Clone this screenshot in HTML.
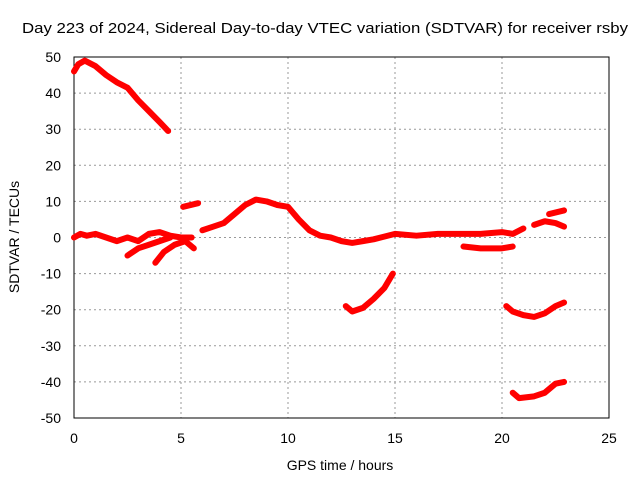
<!DOCTYPE html>
<html><head><meta charset="utf-8"><style>
body{margin:0;background:#fff;font-family:"Liberation Sans",sans-serif}
svg text{font-family:"Liberation Sans",sans-serif;font-size:14px;fill:#000}
</style></head><body>
<svg width="640" height="480">
<rect width="640" height="480" fill="#fff"/>
<g id="grid"></g>
<rect x="74" y="57" width="535" height="361" fill="none" stroke="#000"/>
<g id="ticks"></g>
<g id="series"></g>
<text x="22" y="33" textLength="606" lengthAdjust="spacingAndGlyphs" style="font-size:15px">Day 223 of 2024, Sidereal Day-to-day VTEC variation (SDTVAR) for receiver rsby</text>
<text x="340" y="470" text-anchor="middle">GPS time / hours</text>
<text transform="translate(19,237) rotate(-90)" text-anchor="middle">SDTVAR / TECUs</text>
</svg>
<script>
const xTicks=[0,5,10,15,20,25];
const yTicks=[50,40,30,20,10,0,-10,-20,-30,-40,-50];
const seg1=[[0,46],[0.2,48],[0.5,49],[1,47.5],[1.5,45],[2,43],[2.5,41.5],[3,38],[3.5,35],[4,32],[4.4,29.5]];
const seg2=[[0,0],[0.3,1],[0.6,0.5],[1,1],[1.5,0],[2,-1],[2.5,0],[3,-1],[3.5,1],[4,1.5],[4.5,0.5],[5,0],[5.5,0]];
const seg3=[[2.5,-5],[3,-3],[3.5,-2],[4,-1],[4.5,0]];
const seg4=[[3.8,-7],[4.2,-4],[4.7,-2],[5.2,-1],[5.6,-3]];
const seg5=[[5.1,8.5],[5.8,9.5]];
const seg6=[[6,2],[6.5,3],[7,4],[7.5,6.5],[8,9],[8.5,10.5],[9,10],[9.5,9],[10,8.5],[10.5,5],[11,2],[11.5,0.5],[12,0],[12.5,-1],[13,-1.5],[13.5,-1],[14,-0.5],[15,1],[16,0.5],[17,1],[18,1],[19,1],[20,1.5],[20.5,1],[21,2.5]];
const seg7=[[12.7,-19],[13,-20.5],[13.5,-19.5],[14,-17],[14.5,-14],[14.9,-10]];
const seg8=[[18.2,-2.5],[19,-3],[20,-3],[20.5,-2.5]];
const seg9=[[21.5,3.5],[22,4.5],[22.5,4],[22.9,3]];
const seg10=[[22.2,6.5],[22.9,7.5]];
const seg11=[[20.2,-19],[20.5,-20.5],[21,-21.5],[21.5,-22],[22,-21],[22.5,-19],[22.9,-18]];
const seg12=[[20.5,-43],[20.8,-44.5],[21.5,-44],[22,-43],[22.5,-40.5],[22.9,-40]];
const segments=[seg1,seg2,seg3,seg4,seg5,seg6,seg7,seg8,seg9,seg10,seg11,seg12];
const NS="http://www.w3.org/2000/svg";
const X0=74,X1=609,Y0=418,Y1=57;
const sx=v=>X0+(v-0)/25*(X1-X0);
const sy=v=>Y0-(v+50)/100*(Y0-Y1);
const grid=document.getElementById('grid'),ticks=document.getElementById('ticks'),ser=document.getElementById('series');
function mk(tag,a,p){const e=document.createElementNS(NS,tag);for(const k in a)e.setAttribute(k,a[k]);p.appendChild(e);return e;}
xTicks.forEach(t=>{const x=sx(t);
 if(t>0&&t<25){const g=mk('line',{x1:x,x2:x,y1:Y1,y2:Y0,stroke:'#999','stroke-dasharray':'2,3'},grid);}
 const tl=mk('text',{x:x,y:443,'text-anchor':'middle'},ticks);tl.textContent=t;
 
 
});
yTicks.forEach(t=>{const y=sy(t);
 if(t>-50&&t<50){const g=mk('line',{x1:X0,x2:X1,y1:y,y2:y,stroke:'#999','stroke-dasharray':'2,3'},grid);}
 const tl=mk('text',{x:61,y:y+5,'text-anchor':'end'},ticks);tl.textContent=t;
 
 
});
segments.forEach((s,i)=>{
 const pl=mk('polyline',{points:s.map(p=>sx(p[0])+','+sy(p[1])).join(' '),fill:'none',stroke:'#f00','stroke-width':6,'stroke-linejoin':'round','stroke-linecap':'round'},ser);
 
 
});
</script>
</body></html>
